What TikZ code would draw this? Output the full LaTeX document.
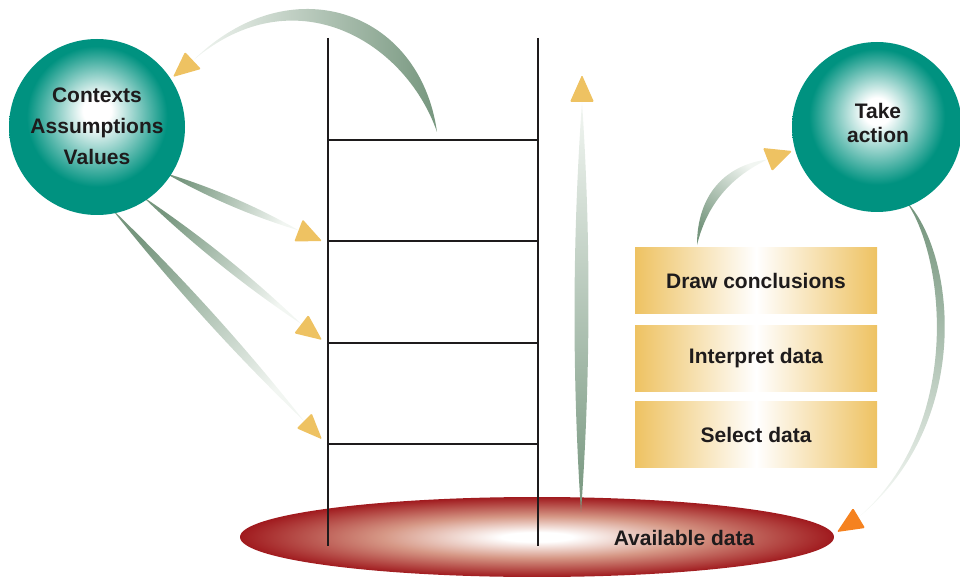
\documentclass[tikz,border=0pt]{standalone}
\usepackage{fontspec}
\setmainfont{Liberation Sans}
\usetikzlibrary{calc,shapes.geometric}
\definecolor{tealc}{RGB}{0,146,128}
\definecolor{sagedark}{RGB}{118,150,126}
\definecolor{sagelight}{RGB}{242,246,242}
\definecolor{goldc}{RGB}{238,194,98}
\definecolor{orangec}{RGB}{245,130,32}
\definecolor{redc}{RGB}{160,26,30}
\definecolor{pinkc}{RGB}{214,152,134}
\definecolor{inkc}{RGB}{30,27,28}
\pgfdeclareradialshading{tealball}{\pgfpoint{0bp}{5bp}}{color(0bp)=(white); color(4bp)=(white); color(20bp)=(tealc); color(25bp)=(tealc); color(50bp)=(tealc)}
\pgfdeclareradialshading{redpool}{\pgfpointorigin}{color(0bp)=(white); color(3bp)=(white); color(13bp)=(pinkc); color(25bp)=(redc); color(50bp)=(redc)}
\pgfdeclarehorizontalshading{goldbar}{100bp}{color(0bp)=(goldc); color(25bp)=(goldc); color(50bp)=(white); color(75bp)=(goldc); color(100bp)=(goldc)}
\newcommand{\lensband}[4]{%
  \shade[#4] (#1) .. controls ($(#1)!0.33!(#2)!#3!90:(#2)$) and ($(#1)!0.67!(#2)!#3!90:(#2)$) .. (#2)
    .. controls ($(#1)!0.67!(#2)!#3!-90:(#2)$) and ($(#1)!0.33!(#2)!#3!-90:(#2)$) .. (#1) -- cycle;}
\begin{document}
\begin{tikzpicture}[x=1pt,y=-1pt,line join=round,
  ball/.style={circle, minimum size=#1, inner sep=0pt, shade, shading=tealball},
  lbl/.style={font=\fontsize{21}{31}\selectfont\bfseries, text=inkc, align=center, inner sep=0pt},
  goldbox/.style={minimum width=242pt, minimum height=66pt, inner sep=0pt, shade, shading=goldbar, lbl},
  head/.style={fill=goldc, rounded corners=1.2pt},
  rail/.style={line width=2.8pt, draw=inkc}]
\useasboundingbox (0,0) rectangle (960,577);

% pool of available data
\node[ellipse, minimum width=594pt, minimum height=80pt, inner sep=0pt, shade, shading=redpool] (pool) at (537,537) {};

% ladder
\coordinate (lt) at (328,38); \coordinate (lb) at (328,546);
\coordinate (rt) at (538,38); \coordinate (rb) at (538,546);
\draw[rail] (lt) -- (lb);
\draw[rail] (rt) -- (rb);
\foreach \yy [count=\i] in {140,241,343,444}{
  \coordinate (rl\i) at (328,\yy); \coordinate (rr\i) at (538,\yy);
  \draw[rail] (rl\i) -- (rr\i);
}

% band coordinates
\coordinate (a1s) at (437,132); \coordinate (a1e) at (193,60.5);
\coordinate (aAs) at (165,173); \coordinate (aAe) at (299,230.5);
\coordinate (aBs) at (142,196); \coordinate (aBe) at (301.3,324);
\coordinate (aCs) at (111,208); \coordinate (aCe) at (304,421);
\coordinate (a3s) at (581,512); \coordinate (a3e) at (582,102);
\coordinate (a4s) at (697,245); \coordinate (a4e) at (767.5,159.5);
\coordinate (a5s) at (905,200); \coordinate (a5e) at (860,516);

% tapered bands
\shade[left color=sagelight, right color=sagedark] (a1s) .. controls (420,10) and (290,-35) .. (a1e)
   .. controls (293,-25) and (405,40) .. (a1s) -- cycle;
\lensband{aAs}{aAe}{5.5pt}{top color=sagedark, bottom color=sagelight, shading angle=67}
\lensband{aBs}{aBe}{6pt}{top color=sagedark, bottom color=sagelight, shading angle=52}
\lensband{aCs}{aCe}{6.5pt}{top color=sagedark, bottom color=sagelight, shading angle=43}
\lensband{a3s}{a3e}{9.3pt}{top color=sagelight, bottom color=sagedark}
\shade[top color=sagedark, bottom color=sagelight, shading angle=140] (a4s) .. controls (697,195) and (725,165) .. (a4e)
   .. controls (735,175) and (708,200) .. (a4s) -- cycle;
\shade[top color=sagedark, bottom color=sagelight, shading angle=-9] (a5s) .. controls (955,250) and (975,420) .. (a5e)
   .. controls (965,422) and (944,252) .. (a5s) -- cycle;

% circles
\node[ball=176pt] (ctx) at (97,127) {};
\node[lbl] (ctxt) at (97,126.3) {Contexts\\Assumptions\\Values};
\node[ball=170pt] (act) at (877,127) {};
\node[lbl, font=\fontsize{21}{24}\selectfont\bfseries] (actt) at (878,122.5) {Take\\action};

% steps
\node[goldbox] (draw) at (756,280.5) {Draw conclusions};
\node[goldbox] (interp) at (756,358.5) {Interpret data};
\node[goldbox] (sel) at (756,434.5) {Select data};

% heads
\fill[head] (173,77) -- (201,69) -- (185,52) -- cycle;
\fill[head] (322,241) -- (294.3,241.5) -- (302.7,219.5) -- cycle;
\fill[head] (322,340) -- (294.3,333.3) -- (308.3,315) -- cycle;
\fill[head] (322,439.3) -- (296.7,428.3) -- (311.7,413.3) -- cycle;
\fill[head] (582,75) -- (570,102) -- (594,102) -- cycle;
\fill[head] (792,151) -- (763,148) -- (772,171) -- cycle;
\fill[fill=orangec, rounded corners=1.2pt] (837,532) -- (853,508) -- (865,528) -- cycle;

\node[lbl] (avail) at (684,537.5) {Available data};
\end{tikzpicture}
\end{document}
